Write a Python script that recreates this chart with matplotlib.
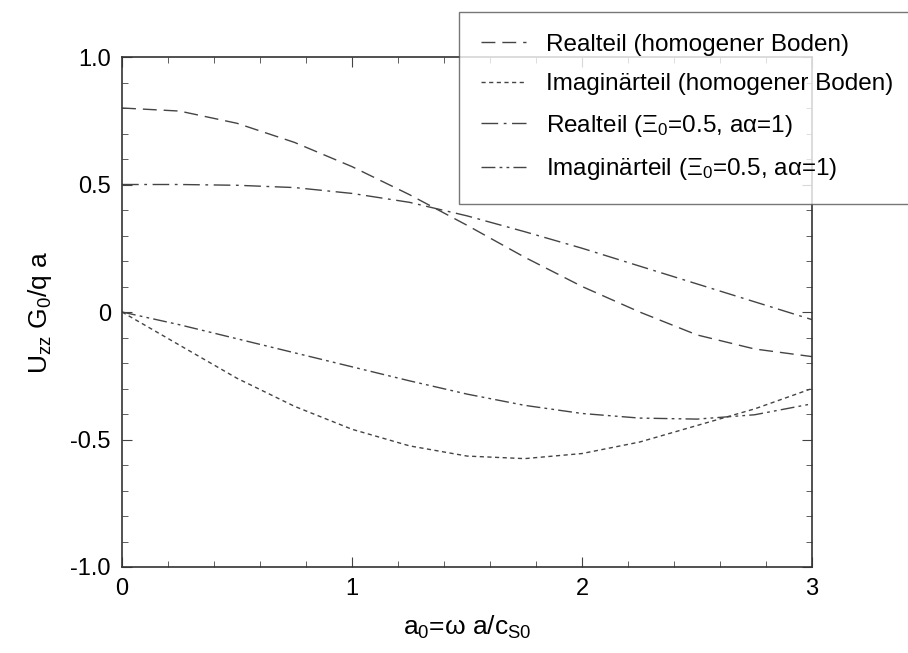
import matplotlib
matplotlib.use("Agg")
import matplotlib.pyplot as plt
from matplotlib.ticker import MultipleLocator

plt.rcParams['font.family'] = ['Liberation Sans', 'DejaVu Sans']
plt.rcParams['mathtext.fontset'] = 'custom'
plt.rcParams['mathtext.rm'] = 'Liberation Sans'
plt.rcParams['mathtext.it'] = 'Liberation Sans'
plt.rcParams['mathtext.sf'] = 'Liberation Sans'

a0 = [0.0, 0.25, 0.5, 0.75, 1.0, 1.25, 1.5, 1.75, 2.0, 2.25, 2.5, 2.75, 3.0]
real_hom = [0.80, 0.788, 0.74, 0.665, 0.57, 0.46, 0.34, 0.215, 0.10, 0.0, -0.09, -0.145, -0.175]
imag_hom = [0.0, -0.13, -0.26, -0.37, -0.46, -0.525, -0.565, -0.575, -0.555, -0.51, -0.445, -0.38, -0.30]
real_xi = [0.50, 0.50, 0.497, 0.488, 0.465, 0.43, 0.377, 0.315, 0.25, 0.18, 0.11, 0.04, -0.03]
imag_xi = [0.0, -0.05, -0.105, -0.16, -0.215, -0.27, -0.322, -0.366, -0.398, -0.416, -0.42, -0.403, -0.36]

labels = [
    'Realteil (homogener Boden)',
    'Imaginärteil (homogener Boden)',
    r'Realteil ($\Xi_0$=0.5, a$\alpha$=1)',
    r'Imaginärteil ($\Xi_0$=0.5, a$\alpha$=1)',
]

fig = plt.figure(figsize=(9.08, 6.53), dpi=100)
ax = fig.add_axes([0.1344, 0.1317, 0.76, 0.781])

col = '#444444'
lw = 1.0
l1, = ax.plot(a0, real_hom, color=col, lw=lw, linestyle=(0, (10, 5)))
l2, = ax.plot(a0, imag_hom, color=col, lw=lw, linestyle=(0, (3, 2.5)))
l3, = ax.plot(a0, real_xi, color=col, lw=lw, linestyle=(0, (12, 4, 2, 4)))
l4, = ax.plot(a0, imag_xi, color=col, lw=lw, linestyle=(0, (10, 3, 2, 3, 2, 3)))

ax.set_xlim(0, 3)
ax.set_ylim(-1, 1)
ax.xaxis.set_minor_locator(MultipleLocator(0.2))
ax.yaxis.set_minor_locator(MultipleLocator(0.1))
ax.set_xticks([0, 1, 2, 3])
ax.set_xticklabels(['0', '1', '2', '3'])
ax.set_yticks([-1.0, -0.5, 0, 0.5, 1.0])
ax.set_yticklabels(['-1.0', '-0.5', '0', '0.5', '1.0'])
ax.tick_params(which='both', direction='in', top=True, right=True, labelsize=17, color='#444444')
ax.tick_params(which='major', length=7, pad=8)
ax.tick_params(which='minor', length=4)
for s in ax.spines.values():
    s.set_color('#333333')
    s.set_linewidth(1.2)

ax.set_xlabel(r'a$_0$=$\omega$ a/c$_{S0}$', fontsize=19, labelpad=10)
ax.set_ylabel(r'U$_{zz}$ G$_0$/q a', fontsize=19, labelpad=12)

leg = fig.legend([l1, l2, l3, l4], labels, loc='upper left',
                 bbox_to_anchor=(0.5055, 0.9816), fontsize=17.5,
                 frameon=True, fancybox=False, shadow=False,
                 handlelength=1.85, handletextpad=0.82, labelspacing=0.72,
                 borderpad=0.9, borderaxespad=0.0)
leg.get_frame().set_edgecolor('#555555')
leg.get_frame().set_linewidth(1.0)

fig.savefig('out.png', dpi=100)
